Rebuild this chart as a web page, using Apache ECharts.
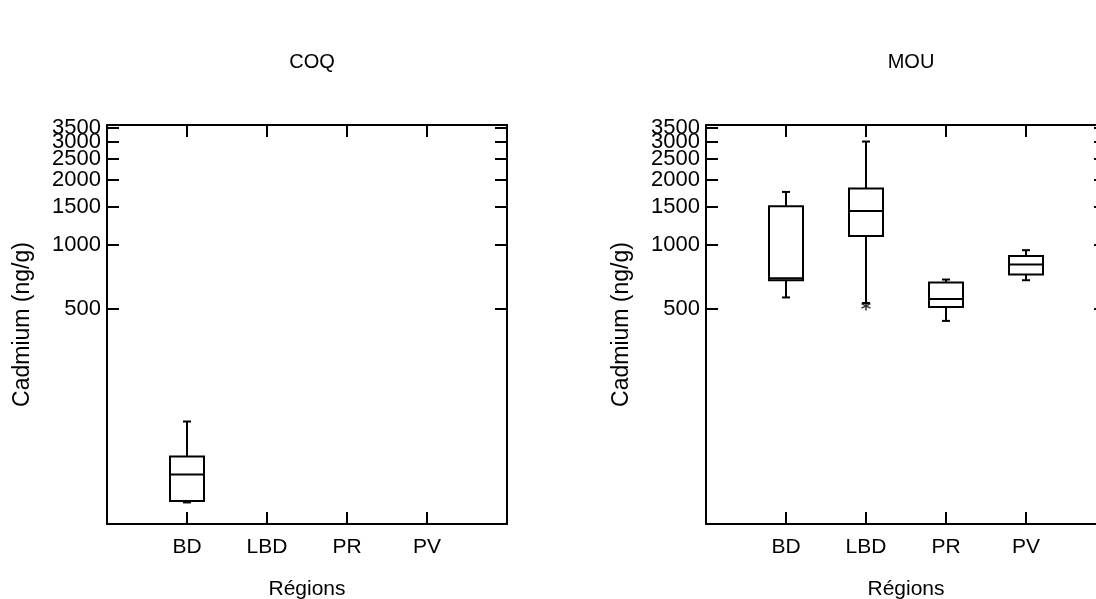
<!DOCTYPE html>
<html>
<head>
<meta charset="utf-8">
<script src="https://cdn.jsdelivr.net/npm/echarts@6/dist/echarts.min.js"></script>
<style>
  html, body { margin: 0; padding: 0; background: #fff; }
  #chart { width: 1096px; height: 599px; }
</style>
</head>
<body>
<div id="chart"></div>
<script>
// categories (blank ends give the empty margins either side)
var regions = ['', 'BD', 'LBD', 'PR', 'PV', ''];
var yTicks = [500, 1000, 1500, 2000, 2500, 3000, 3500];
// labels split over two axes so none gets dropped for overlapping
var yLabelsA = [500, 1000, 1500, 2000, 3000];
var yLabelsB = [2500, 3500];

// [min, Q1, median, Q3, max]
var coqBD = [63, 64, 85, 103, 150];
var mouBD = [567, 682, 697, 1508, 1757];
var mouLBD = [534, 1096, 1434, 1822, 3015];
var mouPR = [441, 512, 557, 665, 687];
var mouPV = [682, 725, 807, 885, 941];
// outliers: [category, value]
var mouOutliers = [['LBD', 518]];

var font = 'Liberation Sans, Arial, sans-serif';

function boxRows(list) {
  // list of [categoryName, stats]
  var rows = [];
  for (var i = 0; i < list.length; i++) {
    var s = list[i][1];
    rows.push([regions.indexOf(list[i][0]), s[0], s[1], s[2], s[3], s[4]]);
  }
  return rows;
}

function renderBox(params, api) {
  var x = api.value(0);
  var pMin = api.coord([x, api.value(1)]);
  var pQ1 = api.coord([x, api.value(2)]);
  var pMed = api.coord([x, api.value(3)]);
  var pQ3 = api.coord([x, api.value(4)]);
  var pMax = api.coord([x, api.value(5)]);
  var cx = pMed[0];
  var hw = 17, cw = 4;
  var st = { stroke: '#000', lineWidth: 2, fill: null };
  return {
    type: 'group',
    children: [
      { type: 'line', shape: { x1: cx, y1: pQ3[1], x2: cx, y2: pMax[1] }, style: st },
      { type: 'line', shape: { x1: cx, y1: pQ1[1], x2: cx, y2: pMin[1] }, style: st },
      { type: 'line', shape: { x1: cx - cw, y1: pMax[1], x2: cx + cw, y2: pMax[1] }, style: st },
      { type: 'line', shape: { x1: cx - cw, y1: pMin[1], x2: cx + cw, y2: pMin[1] }, style: st },
      { type: 'rect', shape: { x: cx - hw, y: pQ3[1], width: hw * 2, height: pQ1[1] - pQ3[1] },
        style: { stroke: '#000', lineWidth: 2, fill: '#fff' } },
      { type: 'line', shape: { x1: cx - hw, y1: pMed[1], x2: cx + hw, y2: pMed[1] }, style: st }
    ]
  };
}

function xAxes(gi) {
  var tick = { show: true, inside: true, length: 12, lineStyle: { color: '#000', width: 2 },
    interval: function (idx) { return idx > 0 && idx < regions.length - 1; } };
  return [
    {
      gridIndex: gi, type: 'category', data: regions, boundaryGap: false, position: 'bottom',
      name: 'Régions', nameLocation: 'middle', nameGap: 55,
      nameTextStyle: { fontFamily: font, fontSize: 21, color: '#000' },
      axisLine: { lineStyle: { color: '#000', width: 2 } },
      axisTick: tick,
      axisLabel: { margin: 13, fontFamily: font, fontSize: 21, color: '#000', interval: 0 },
      splitLine: { show: false }
    },
    {
      gridIndex: gi, type: 'category', data: regions, boundaryGap: false, position: 'top',
      axisLine: { lineStyle: { color: '#000', width: 2 } },
      axisTick: tick,
      axisLabel: { show: false },
      splitLine: { show: false }
    }
  ];
}

function yLabelStyle(values) {
  return { margin: 6, fontFamily: font, fontSize: 22, color: '#000', customValues: values,
    showMaxLabel: true, showMinLabel: true,
    formatter: function (v) { return String(Math.round(v)); } };
}

function yAxes(gi) {
  return [
    {
      gridIndex: gi, type: 'log', logBase: 10, min: 50, max: 3600, position: 'left',
      name: 'Cadmium (ng/g)', nameLocation: 'middle', nameGap: 73,
      nameTextStyle: { fontFamily: font, fontSize: 23, color: '#000' },
      axisLine: { show: true, lineStyle: { color: '#000', width: 2 } },
      axisTick: { show: true, inside: true, length: 12, customValues: yTicks,
        lineStyle: { color: '#000', width: 2 } },
      axisLabel: yLabelStyle(yLabelsA),
      splitLine: { show: false },
      minorTick: { show: false }
    },
    {
      gridIndex: gi, type: 'log', logBase: 10, min: 50, max: 3600, position: 'right',
      axisLine: { show: true, lineStyle: { color: '#000', width: 2 } },
      axisTick: { show: true, inside: true, length: 12, customValues: yTicks,
        lineStyle: { color: '#000', width: 2 } },
      axisLabel: { show: false },
      splitLine: { show: false }
    },
    {
      gridIndex: gi, type: 'log', logBase: 10, min: 50, max: 3600, position: 'left', offset: 0,
      axisLine: { show: false },
      axisTick: { show: true, inside: true, length: 12, customValues: yTicks,
        lineStyle: { color: '#000', width: 2 } },
      axisLabel: yLabelStyle(yLabelsB),
      splitLine: { show: false }
    }
  ];
}

var chart = echarts.init(document.getElementById('chart'));
var option = {
  backgroundColor: '#fff',
  animation: false,
  title: [
    { text: 'COQ', left: 307, top: 47, textAlign: 'center',
      textStyle: { fontFamily: font, fontSize: 20, fontWeight: 'normal', color: '#000' } },
    { text: 'MOU', left: 906, top: 47, textAlign: 'center',
      textStyle: { fontFamily: font, fontSize: 20, fontWeight: 'normal', color: '#000' } }
  ],
  grid: [
    { left: 107, top: 125, width: 400, height: 399, outerBoundsMode: 'none' },
    { left: 706, top: 125, width: 400, height: 399, outerBoundsMode: 'none' }
  ],
  xAxis: xAxes(0).concat(xAxes(1)),
  yAxis: yAxes(0).concat(yAxes(1)),
  series: [
    {
      type: 'custom', xAxisIndex: 0, yAxisIndex: 0,
      renderItem: renderBox,
      encode: { x: 0, y: [1, 2, 3, 4, 5] },
      data: boxRows([['BD', coqBD]])
    },
    {
      type: 'custom', xAxisIndex: 2, yAxisIndex: 3,
      renderItem: renderBox,
      encode: { x: 0, y: [1, 2, 3, 4, 5] },
      data: boxRows([['BD', mouBD], ['LBD', mouLBD], ['PR', mouPR], ['PV', mouPV]])
    },
    {
      type: 'scatter', xAxisIndex: 2, yAxisIndex: 3,
      symbol: 'path://M5,0L5,10M0,2.5L10,7.5M0,7.5L10,2.5',
      symbolSize: 9,
      itemStyle: { color: 'none', borderColor: '#000', borderWidth: 1.5 },
      data: mouOutliers
    }
  ]
};
chart.setOption(option);
</script>
</body>
</html>
